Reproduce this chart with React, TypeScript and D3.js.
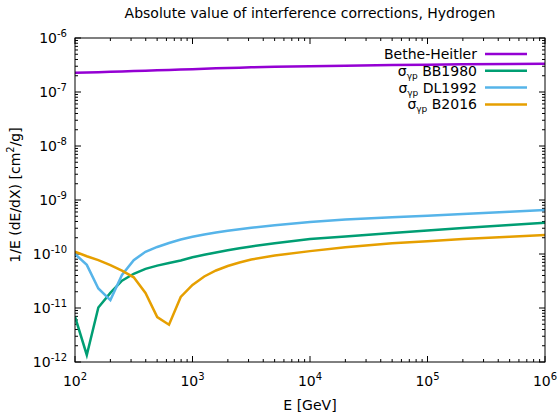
import React from 'react';
import * as d3 from 'd3';

// energies in GeV
const energies = [100, 126, 158, 200, 251, 316, 398, 501, 631, 794, 1000, 1259, 1585, 1995, 2512, 3162, 5012, 1e4, 2e4, 5e4, 1e5, 2e5, 5e5, 1e6];

const betheHeitler = [2.27e-7, 2.3e-7, 2.33e-7, 2.36e-7, 2.4e-7, 2.44e-7, 2.48e-7, 2.52e-7, 2.56e-7, 2.6e-7, 2.65e-7, 2.7e-7, 2.74e-7, 2.78e-7, 2.82e-7, 2.86e-7, 2.92e-7, 3.0e-7, 3.06e-7, 3.15e-7, 3.2e-7, 3.25e-7, 3.31e-7, 3.35e-7];
const bb1980 = [6.9e-12, 1.35e-12, 1.02e-11, 1.9e-11, 3.2e-11, 4.3e-11, 5.3e-11, 6.1e-11, 6.8e-11, 7.6e-11, 8.69e-11, 9.66e-11, 1.07e-10, 1.17e-10, 1.28e-10, 1.38e-10, 1.58e-10, 1.89e-10, 2.11e-10, 2.46e-10, 2.72e-10, 3.04e-10, 3.44e-10, 3.8e-10];
const dl1992 = [1.0e-10, 6.3e-11, 2.3e-11, 1.4e-11, 4.1e-11, 7.7e-11, 1.1e-10, 1.35e-10, 1.6e-10, 1.85e-10, 2.08e-10, 2.3e-10, 2.5e-10, 2.69e-10, 2.88e-10, 3.06e-10, 3.4e-10, 3.92e-10, 4.34e-10, 4.8e-10, 5.12e-10, 5.5e-10, 6.04e-10, 6.53e-10];
const b2016 = [1.1e-10, 9.1e-11, 7.7e-11, 6.2e-11, 4.9e-11, 3.7e-11, 1.9e-11, 6.8e-12, 4.9e-12, 1.6e-11, 2.67e-11, 3.83e-11, 4.95e-11, 6.0e-11, 6.97e-11, 7.91e-11, 9.38e-11, 1.13e-10, 1.34e-10, 1.58e-10, 1.73e-10, 1.9e-10, 2.08e-10, 2.25e-10];

const xDecades = [2, 3, 4, 5, 6];
const yDecades = [-12, -11, -10, -9, -8, -7, -6];

const series = [
  { name: 'Bethe-Heitler', sigma: false, values: betheHeitler, color: '#9400d3' },
  { name: 'BB1980', sigma: true, values: bb1980, color: '#009e73' },
  { name: 'DL1992', sigma: true, values: dl1992, color: '#56b4e9' },
  { name: 'B2016', sigma: true, values: b2016, color: '#e69f00' },
];

const W = 559;
const H = 412;
const m = { left: 75, right: 14, top: 38, bottom: 50 };
const font = 'DejaVu Sans, sans-serif';

export default function App() {
  const x = d3.scaleLog().domain([1e2, 1e6]).range([m.left, W - m.right]);
  const y = d3.scaleLog().domain([1e-12, 1e-6]).range([H - m.bottom, m.top]);
  const x0 = m.left, x1 = W - m.right, y0 = H - m.bottom, y1 = m.top;

  const line = d3.line<number>()
    .x((_, i) => x(energies[i]))
    .y(d => y(d));

  const xMinor: number[] = [];
  xDecades.slice(0, -1).forEach(p => { for (let k = 2; k <= 9; k++) xMinor.push(k * 10 ** p); });
  const yMinor: number[] = [];
  yDecades.slice(0, -1).forEach(p => { for (let k = 2; k <= 9; k++) yMinor.push(k * 10 ** p); });

  const ticks: JSX.Element[] = [];
  xDecades.forEach(p => {
    const px = x(10 ** p);
    ticks.push(<line key={'xb' + p} x1={px} x2={px} y1={y0} y2={y0 - 6} />);
    ticks.push(<line key={'xt' + p} x1={px} x2={px} y1={y1} y2={y1 + 6} />);
  });
  xMinor.forEach(v => {
    const px = x(v);
    ticks.push(<line key={'xmb' + v} x1={px} x2={px} y1={y0} y2={y0 - 3} />);
    ticks.push(<line key={'xmt' + v} x1={px} x2={px} y1={y1} y2={y1 + 3} />);
  });
  yDecades.forEach(p => {
    const py = y(10 ** p);
    ticks.push(<line key={'yl' + p} x1={x0} x2={x0 + 6} y1={py} y2={py} />);
    ticks.push(<line key={'yr' + p} x1={x1} x2={x1 - 6} y1={py} y2={py} />);
  });
  yMinor.forEach(v => {
    const py = y(v);
    ticks.push(<line key={'yml' + v} x1={x0} x2={x0 + 3} y1={py} y2={py} />);
    ticks.push(<line key={'ymr' + v} x1={x1} x2={x1 - 3} y1={py} y2={py} />);
  });

  return (
    <svg width={W} height={H} style={{ position: 'absolute', left: 0, top: 0, background: '#fff' }} fontFamily={font}>
      <defs>
        <clipPath id="plot">
          <rect x={x0} y={y1} width={x1 - x0} height={y0 - y1} />
        </clipPath>
      </defs>
      <text x={310} y={18} textAnchor="middle" fontSize={14}>Absolute value of interference corrections, Hydrogen</text>

      <g stroke="#000" strokeWidth={1}>{ticks}</g>

      {yDecades.map(p => (
        <text key={p} x={67} y={y(10 ** p) + 5} textAnchor="end" fontSize={14}>
          10<tspan dy={-6} fontSize={10}>{p}</tspan>
        </text>
      ))}
      {xDecades.map(p => (
        <text key={p} x={x(10 ** p)} y={386} textAnchor="middle" fontSize={14}>
          10<tspan dy={-6} fontSize={10}>{p}</tspan>
        </text>
      ))}

      <text x={310} y={410} textAnchor="middle" fontSize={14}>E [GeV]</text>
      <text transform="translate(20,195) rotate(-90)" textAnchor="middle" fontSize={14}>
        1/E (dE/dX) [cm<tspan dy={-6} fontSize={10}>2</tspan><tspan dy={6}>/g]</tspan>
      </text>

      <g clipPath="url(#plot)">
        {series.map(s => (
          <path key={s.name} d={line(s.values) || ''} fill="none" stroke={s.color} strokeWidth={2.5} strokeLinejoin="miter" />
        ))}
      </g>

      {series.map((s, i) => {
        const ly = 54 + i * 16.8;
        return (
          <g key={s.name}>
            <text x={477} y={ly + 5} textAnchor="end" fontSize={14}>
              {s.sigma ? <>σ<tspan dy={3} fontSize={9}>γp</tspan><tspan dy={-3}> {s.name}</tspan></> : s.name}
            </text>
            <line x1={485} x2={527} y1={ly} y2={ly} stroke={s.color} strokeWidth={2.5} />
          </g>
        );
      })}

      <rect x={x0} y={y1} width={x1 - x0} height={y0 - y1} fill="none" stroke="#000" strokeWidth={1} />
    </svg>
  );
}
